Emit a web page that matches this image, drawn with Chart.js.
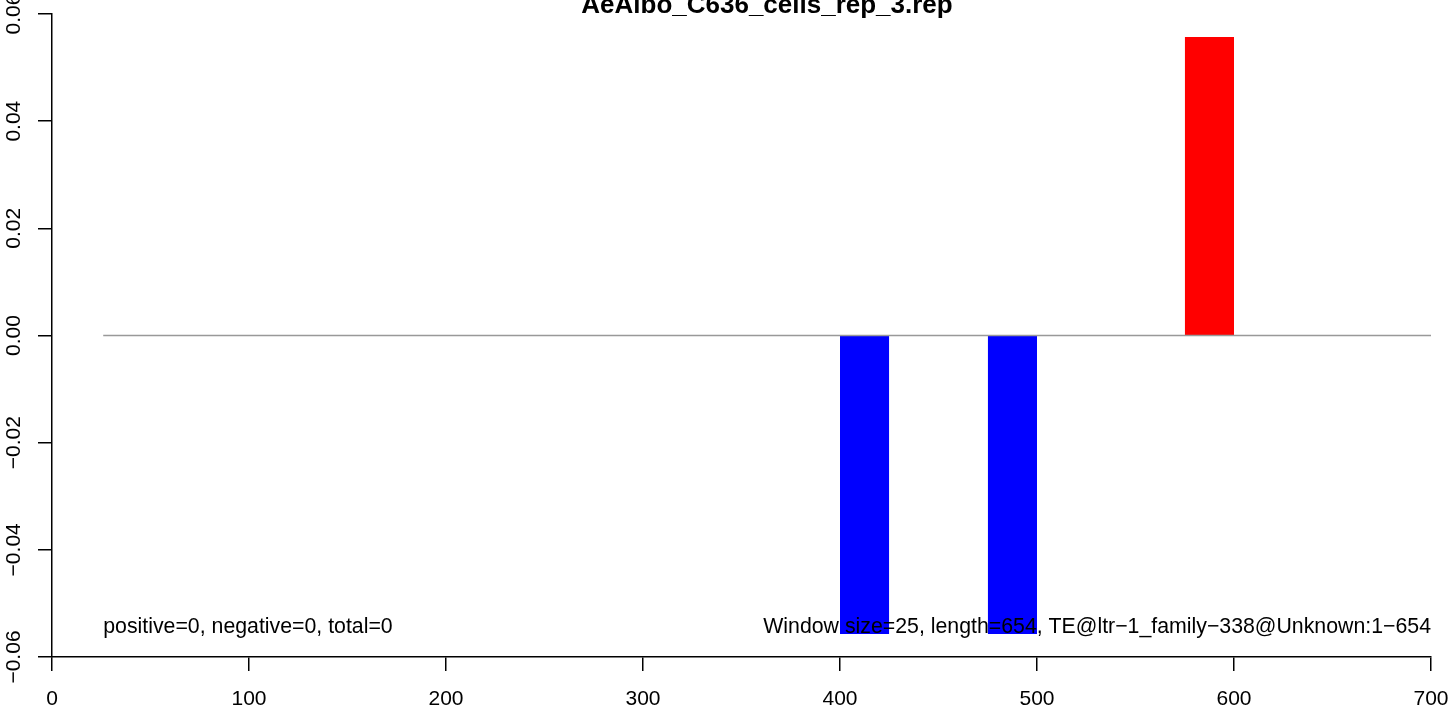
<!DOCTYPE html>
<html>
<head>
<meta charset="utf-8">
<title>AeAlbo_C636_cells_rep_3.rep</title>
<script src="https://cdn.jsdelivr.net/npm/chart.js@4.4.1/dist/chart.umd.min.js"></script>
<style>
    html, body { margin: 0; padding: 0; background: #ffffff; }
    #chart { display: block; }
</style>
</head>
<body>
<canvas id="chart" width="1452" height="709"></canvas>
<script>
// ============================================
// DATOS
// ============================================

const chartTitle = 'AeAlbo_C636_cells_rep_3.rep';

// ventanas con señal (inicio, fin, valor)
const barStarts = [400, 475, 575];
const barEnds = [425, 500, 600];
const barValues = [-0.0557, -0.0557, 0.0557];

// línea de base en cero
const baselineX = [26, 700];

// ejes
const xTicks = [0, 100, 200, 300, 400, 500, 600, 700];
const yTicks = [-0.06, -0.04, -0.02, 0.00, 0.02, 0.04, 0.06];

// notas al pie del gráfico
const leftNote = 'positive=0, negative=0, total=0';
const rightNote = 'Window size=25, length=654, TE@ltr\u22121_family\u2212338@Unknown:1\u2212654';
const noteX = [26, 700];
const noteY = -0.0545;

// ============================================
// ESTILO
// ============================================

const FONT = "'Liberation Sans', Arial, Helvetica, sans-serif";
const POS_COLOR = '#ff0000';
const NEG_COLOR = '#0000ff';

function formatTick(v) {
    const s = Math.abs(v).toFixed(2);
    return v < -1e-9 ? '\u2212' + s : s;
}

// etiquetas rotadas del eje Y, título y notas
const annotations = {
    id: 'annotations',
    afterDatasetsDraw(chart) {
        const ctx = chart.ctx;
        const xs = chart.scales.x;
        const ys = chart.scales.y;

        ctx.save();
        ctx.fillStyle = '#000000';
        ctx.font = '21.3px ' + FONT;
        ctx.textBaseline = 'middle';

        ctx.textAlign = 'left';
        ctx.fillText(leftNote, xs.getPixelForValue(noteX[0]), ys.getPixelForValue(noteY));
        ctx.textAlign = 'right';
        ctx.fillText(rightNote, xs.getPixelForValue(noteX[1]), ys.getPixelForValue(noteY));
        ctx.restore();
    },
    afterDraw(chart) {
        const ctx = chart.ctx;
        const ys = chart.scales.y;

        ctx.save();
        ctx.fillStyle = '#000000';
        ctx.font = '21px ' + FONT;
        ctx.textAlign = 'center';
        ctx.textBaseline = 'alphabetic';
        yTicks.forEach(v => {
            const py = ys.getPixelForValue(v);
            ctx.save();
            ctx.translate(20, py);
            ctx.rotate(-Math.PI / 2);
            ctx.fillText(formatTick(v), 0, 0);
            ctx.restore();
        });

        ctx.font = 'bold 26px ' + FONT;
        ctx.fillText(chartTitle, 767, 13);
        ctx.restore();
    }
};

// ============================================
// GRÁFICO
// ============================================

const datasets = [{
    label: 'zero',
    data: baselineX.map(x => ({ x: x, y: 0 })),
    borderColor: '#999999',
    borderWidth: 1.5,
    pointRadius: 0,
    fill: false
}];

barValues.forEach((v, i) => {
    datasets.push({
        label: 'bar' + i,
        data: [{ x: barStarts[i], y: v }, { x: barEnds[i], y: v }],
        borderWidth: 0,
        borderColor: 'rgba(0,0,0,0)',
        backgroundColor: v > 0 ? POS_COLOR : NEG_COLOR,
        pointRadius: 0,
        fill: 'origin'
    });
});

new Chart(document.getElementById('chart').getContext('2d'), {
    type: 'line',
    data: { datasets: datasets },
    options: {
        responsive: false,
        devicePixelRatio: 1,
        animation: false,
        layout: { padding: { top: 14, right: 21, left: 0, bottom: 0 } },
        plugins: {
            legend: { display: false },
            tooltip: { enabled: false },
            title: { display: false }
        },
        scales: {
            x: {
                type: 'linear',
                min: xTicks[0],
                max: xTicks[xTicks.length - 1],
                afterFit: scale => {
                    scale.height = 52;
                    scale.paddingLeft = 0;
                    scale.paddingRight = 0;
                },
                afterBuildTicks: scale => { scale.ticks = xTicks.map(v => ({ value: v })); },
                ticks: {
                    color: '#000000',
                    font: { family: FONT, size: 21 },
                    padding: 16,
                    maxRotation: 0,
                    autoSkip: false,
                    callback: v => String(v)
                },
                grid: {
                    drawOnChartArea: false,
                    drawTicks: true,
                    tickLength: 14,
                    color: '#000000',
                    lineWidth: 1.5
                },
                border: { display: true, color: '#000000', width: 1.5 }
            },
            y: {
                type: 'linear',
                min: yTicks[0],
                max: yTicks[yTicks.length - 1],
                afterFit: scale => {
                    scale.width = 52;
                    scale.paddingTop = 0;
                    scale.paddingBottom = 0;
                },
                afterBuildTicks: scale => { scale.ticks = yTicks.map(v => ({ value: v })); },
                ticks: { display: false },
                grid: {
                    drawOnChartArea: false,
                    drawTicks: true,
                    tickLength: 14,
                    color: '#000000',
                    lineWidth: 1.5
                },
                border: { display: true, color: '#000000', width: 1.5 }
            }
        }
    },
    plugins: [annotations]
});
</script>
</body>
</html>
